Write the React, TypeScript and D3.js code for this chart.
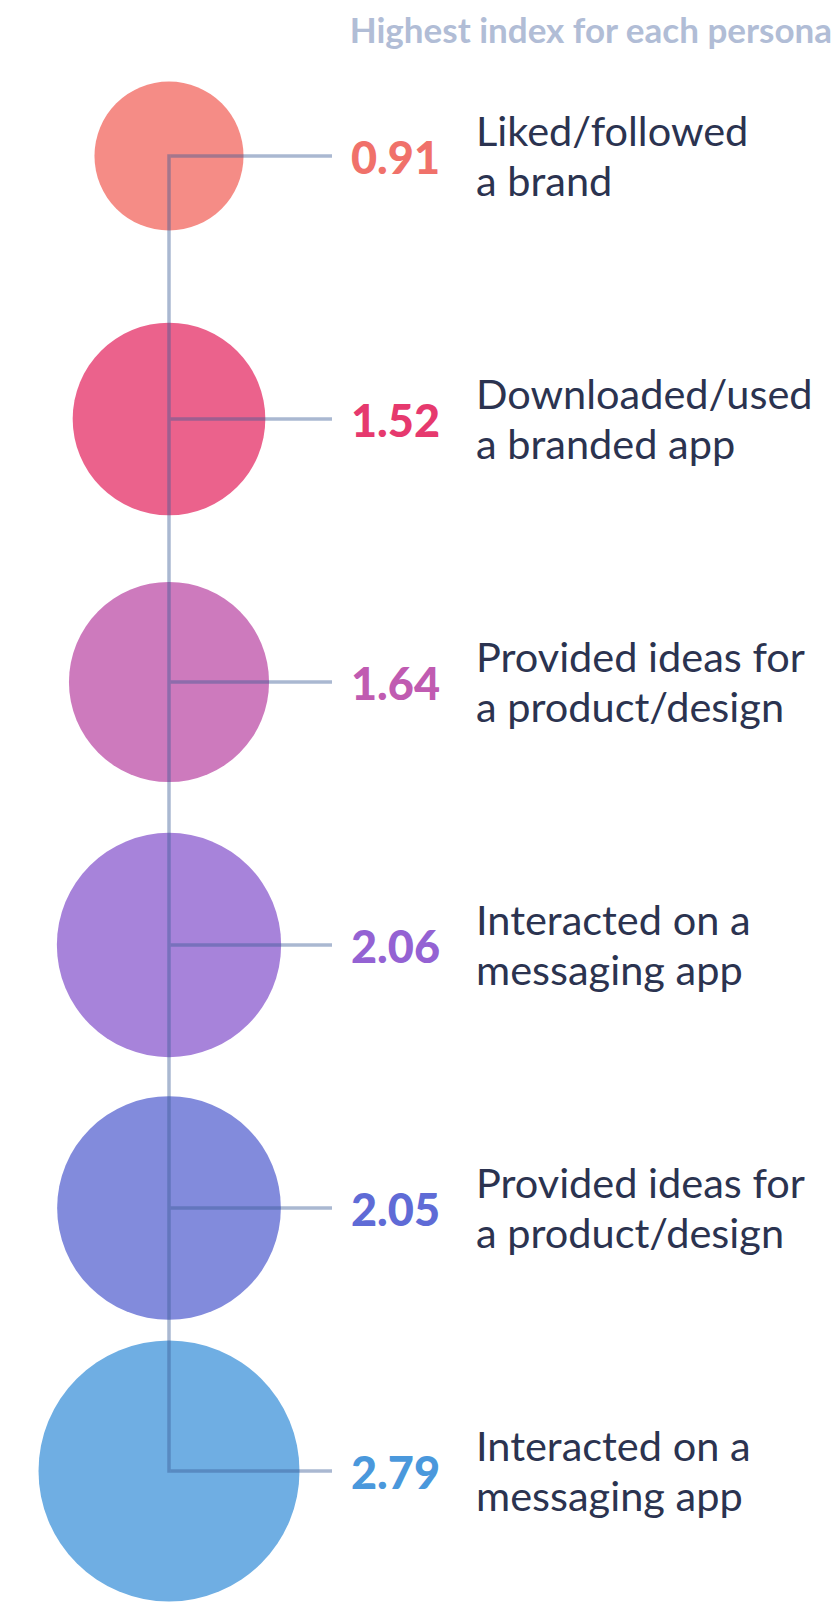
import { useMemo } from 'react';
import * as d3 from 'd3';

const WIDTH = 836;
const HEIGHT = 1605;
const CENTER_X = 169;
const LINE_END = 332;
const FONT = 'Lato, "Open Sans", sans-serif';

const TITLE = 'Highest index for each persona';
const VALUES = [0.91, 1.52, 1.64, 2.06, 2.05, 2.79];
const LABELS = [
  ['Liked/followed', 'a brand'],
  ['Downloaded/used', 'a branded app'],
  ['Provided ideas for', 'a product/design'],
  ['Interacted on a', 'messaging app'],
  ['Provided ideas for', 'a product/design'],
  ['Interacted on a', 'messaging app'],
];
const CIRCLE_COLORS = ['#f58c86', '#eb628c', '#cd7abd', '#a783da', '#828bdc', '#6faee3'];
const VALUE_COLORS = ['#f0716a', '#e6396e', '#c05bb1', '#9462d3', '#5f6bd6', '#4a98dc'];

export default function App() {
  const { y, r } = useMemo(() => {
    const y = d3
      .scalePoint<number>()
      .domain(d3.range(VALUES.length))
      .range([156, 1471]);
    // bubble area follows the index value
    const r = d3.scaleSqrt().domain([0, 2.79]).range([0, 130.5]);
    return { y, r };
  }, []);

  const first = y(0) as number;
  const last = y(VALUES.length - 1) as number;

  return (
    <svg
      width={WIDTH}
      height={HEIGHT}
      viewBox={`0 0 ${WIDTH} ${HEIGHT}`}
      style={{ position: 'absolute', left: 0, top: 0, display: 'block', background: '#fff' }}
    >
      <text
        x={832}
        y={43}
        textAnchor="end"
        fontFamily={FONT}
        fontWeight={700}
        fontSize={35}
        fill="#b1bdd6"
      >
        {TITLE}
      </text>

      {VALUES.map((v, i) => (
        <circle key={i} cx={CENTER_X} cy={y(i)} r={r(v)} fill={CIRCLE_COLORS[i]} />
      ))}

      {/* connector: one spine plus a branch per circle */}
      <g stroke="#3a5a94" strokeOpacity={0.43} strokeWidth={3.5} fill="none">
        <line x1={CENTER_X} x2={CENTER_X} y1={first - 1.75} y2={last + 1.75} />
        {VALUES.map((_, i) => (
          <line key={i} x1={CENTER_X + 1.75} x2={LINE_END} y1={y(i)} y2={y(i)} />
        ))}
      </g>

      {VALUES.map((v, i) => {
        const cy = y(i) as number;
        return (
          <g key={i}>
            <text
              x={351}
              y={cy + 18}
              fontFamily={FONT}
              fontWeight={900}
              fontSize={45}
              fill={VALUE_COLORS[i]}
            >
              {v.toFixed(2)}
            </text>
            {LABELS[i].map((line, k) => (
              <text
                key={k}
                x={476}
                y={cy - 10 + k * 50}
                fontFamily={FONT}
                fontSize={41.5}
                fill="#2b3350"
              >
                {line}
              </text>
            ))}
          </g>
        );
      })}
    </svg>
  );
}
